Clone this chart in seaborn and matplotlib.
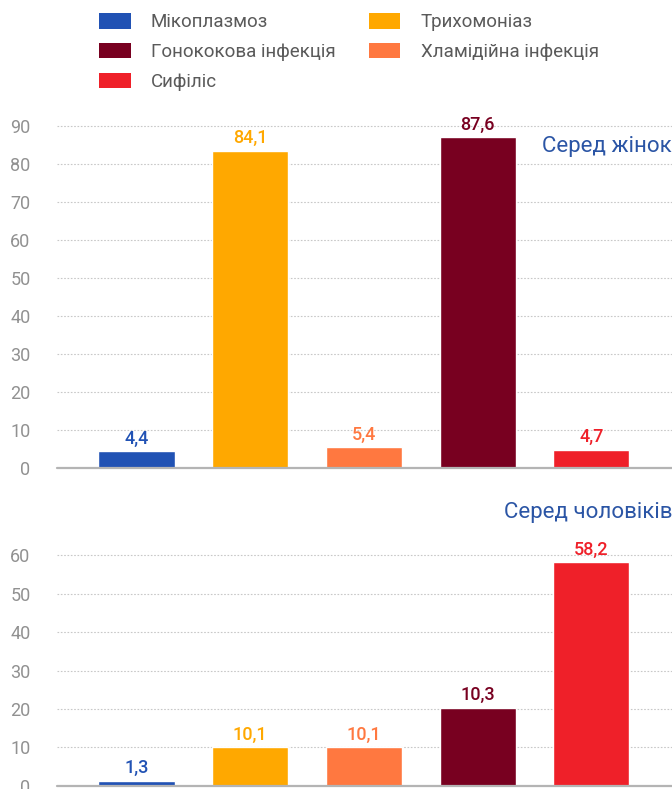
import numpy as np
import pandas as pd
import matplotlib
matplotlib.use("Agg")
import matplotlib.pyplot as plt
from matplotlib.patches import Patch
import seaborn as sns

# дані
categories = ["Мікоплазмоз", "Трихомоніаз", "Хламідійна інфекція",
              "Гонококова інфекція", "Сифіліс"]
colors = ["#2152B4", "#FFA800", "#FF7840", "#780020", "#EF2029"]

women_values = [4.4, 83.5, 5.4, 87.1, 4.7]
women_labels = ["4,4", "84,1", "5,4", "87,6", "4,7"]

men_values = [1.3, 10.1, 10.1, 20.3, 58.2]
men_labels = ["1,3", "10,1", "10,1", "10,3", "58,2"]

women_ticks = [0, 10, 20, 30, 40, 50, 60, 70, 80, 90]
men_ticks = [0, 10, 20, 30, 40, 50, 60]

legend_col1 = [0, 3, 4]
legend_col2 = [1, 2]

sns.set_theme(style="white")
plt.rcParams['font.family'] = ['Roboto', 'DejaVu Sans']

W, H = 672, 789
fig = plt.figure(figsize=(W / 100, H / 100), dpi=100)


def px_axes(left, top, right, bottom):
    return fig.add_axes([left / W, 1 - bottom / H, (right - left) / W, (bottom - top) / H])


def draw_panel(ax, values, labels, ticks, ytop, title, title_y):
    df = pd.DataFrame({"cat": categories, "val": values})
    sns.barplot(data=df, x="cat", y="val", hue="cat", palette=colors,
                order=categories, hue_order=categories, legend=False,
                width=0.67, saturation=1, ax=ax)
    ax.set_xlim(-0.70, 4.71)
    ax.set_ylim(0, ytop)
    ax.set_yticks(ticks)
    ax.set_xticks([])
    ax.set_xlabel("")
    ax.set_ylabel("")
    for t in ticks[1:]:
        ax.axhline(t, color="#c8c8c8", lw=0.8, ls=(0, (1.5, 1.5)), zorder=0)
    ax.axhline(0, color="#b4b4b4", lw=1.6, zorder=3, clip_on=False)
    for s in ax.spines.values():
        s.set_visible(False)
    ax.tick_params(axis="y", length=0, pad=19, labelsize=13, labelcolor="#919191")
    for i, (v, lab) in enumerate(zip(values, labels)):
        ax.annotate(lab, (i, v), xytext=(0, 2.5), textcoords="offset points",
                    ha="center", va="bottom", fontsize=13, fontweight="medium",
                    color=colors[i])
    ax.text(1.0, title_y, title, transform=ax.transAxes, ha="right", va="center",
            fontsize=16, color="#2B55A5", clip_on=False)


ax1 = px_axes(57, 109, 672, 467.7)
draw_panel(ax1, women_values, women_labels, women_ticks, 94.5, "Серед жінок", 0.895)

ax2 = px_axes(57, 540, 672, 785.7)
draw_panel(ax2, men_values, men_labels, men_ticks, 64, "Серед чоловіків", 1.11)

# легенда у дві колонки
for idx, x0 in [(legend_col1, 99), (legend_col2, 368.6)]:
    handles = [Patch(facecolor=colors[i], edgecolor="none", label=categories[i])
               for i in idx]
    fig.legend(handles=handles, loc="upper left",
               bbox_to_anchor=(x0 / W, 1 - 13 / H), frameon=False,
               borderpad=0, borderaxespad=0,
               fontsize=13.5, labelcolor="#5a5a5a",
               handlelength=1.7, handleheight=0.9, handletextpad=1.07,
               labelspacing=0.62)

fig.savefig("out.png", dpi=100)
